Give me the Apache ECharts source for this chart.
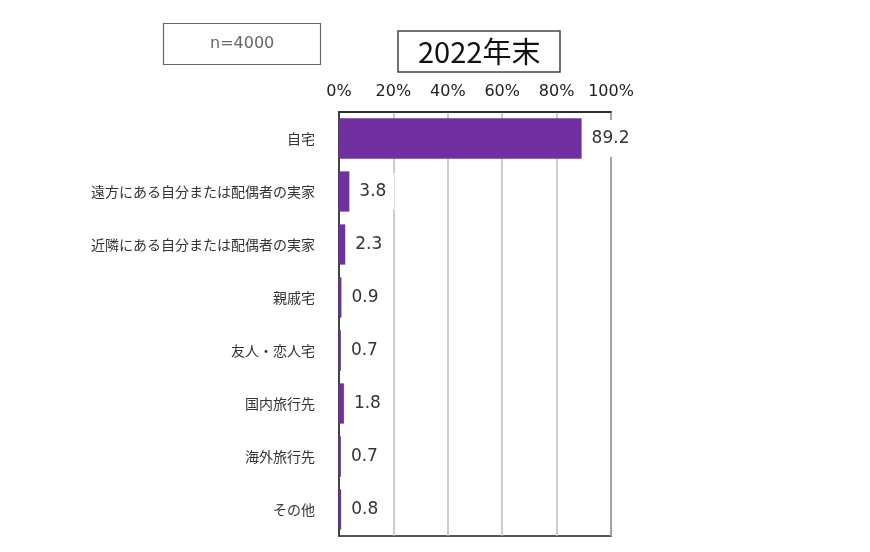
<!DOCTYPE html>
<html>
<head>
<meta charset="utf-8">
<script src="https://cdn.jsdelivr.net/npm/echarts@6/dist/echarts.min.js"></script>
<style>
  html, body { margin: 0; padding: 0; background: #fff; }
  #main { width: 870px; height: 552px; }
</style>
</head>
<body>
<div id="main"></div>
<script>
// 回答先（n=4000, 2022年末）
const categories = [
  '自宅',
  '遠方にある自分または配偶者の実家',
  '近隣にある自分または配偶者の実家',
  '親戚宅',
  '友人・恋人宅',
  '国内旅行先',
  '海外旅行先',
  'その他'
];
const values = [89.2, 3.8, 2.3, 0.9, 0.7, 1.8, 0.7, 0.8];
const tickValues = [0, 20, 40, 60, 80, 100];

const chart = echarts.init(document.getElementById('main'));
const option = {
  backgroundColor: '#fff',
  animation: false,
  title: [
    {
      text: '2022年末',
      left: 398,
      top: 31,
      padding: [6, 20, 6, 20],
      borderColor: '#444',
      borderWidth: 1.5,
      textStyle: { fontFamily: 'Noto Sans CJK JP', fontSize: 29, fontWeight: 'normal', color: '#111' }
    },
    {
      text: 'n=4000',
      left: 163,
      top: 23,
      padding: [13, 46, 13, 47],
      borderColor: '#666',
      borderWidth: 1.2,
      textStyle: { fontFamily: 'DejaVu Sans', fontSize: 16, fontWeight: 'normal', color: '#666' }
    }
  ],
  grid: {
    left: 339, top: 112, width: 272, bottom: 16,
    show: true, borderColor: '#222', borderWidth: 1.5,
    containLabel: false
  },
  xAxis: {
    type: 'value',
    position: 'top',
    min: tickValues[0],
    max: tickValues[tickValues.length - 1],
    interval: 20,
    axisLine: { show: true, lineStyle: { color: '#222', width: 1.5 } },
    axisTick: { show: false },
    axisLabel: {
      formatter: '{value}%', margin: 12,
      fontFamily: 'DejaVu Sans', fontSize: 16, color: '#222'
    },
    splitLine: { show: true, lineStyle: { color: '#bbb', width: 1.5 } }
  },
  yAxis: {
    type: 'category',
    inverse: true,
    data: categories,
    axisLine: { show: true, lineStyle: { color: '#222', width: 1.5 } },
    axisTick: { show: false },
    axisLabel: { margin: 24, fontFamily: 'Noto Sans CJK JP', fontSize: 14, color: '#333' }
  },
  series: [{
    type: 'bar',
    data: values,
    barCategoryGap: '24%',
    itemStyle: { color: '#7030A0' },
    label: {
      show: true, position: 'right', distance: 2,
      formatter: p => p.value.toFixed(1),
      fontFamily: 'DejaVu Sans', fontSize: 17, color: '#333',
      backgroundColor: '#fff', padding: [10, 8, 10, 8]
    }
  }]
};
chart.setOption(option);
</script>
</body>
</html>
